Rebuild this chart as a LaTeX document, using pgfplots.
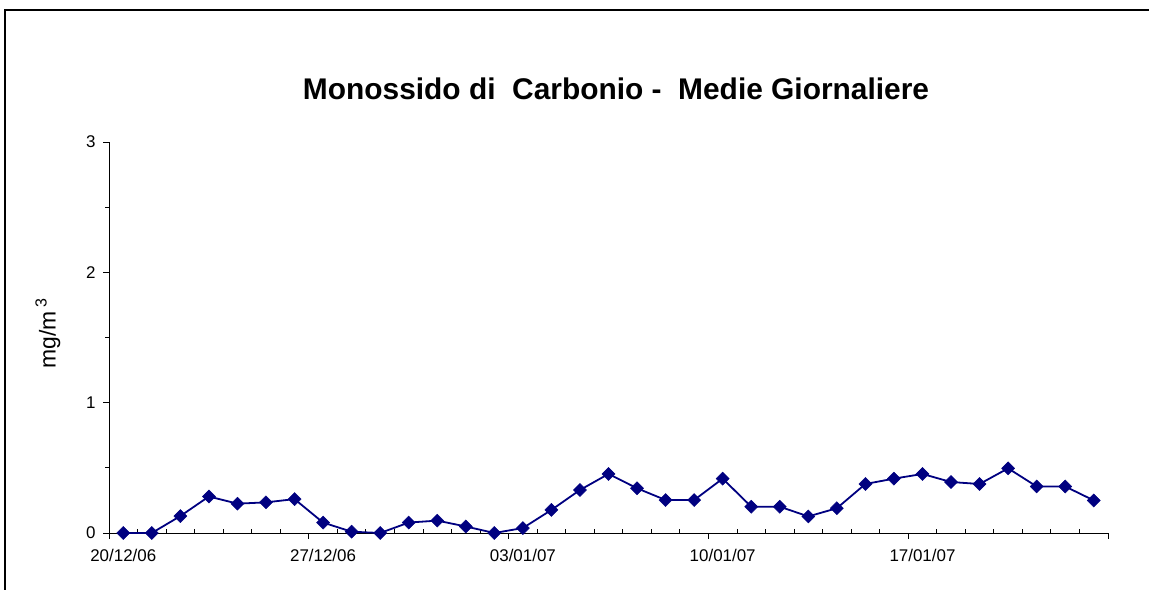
\documentclass[border=0pt]{standalone}
\usepackage{pgfplots}
\pgfplotsset{compat=1.18}
\usepackage{fontspec}
\setmainfont{Liberation Sans}
\definecolor{navy}{RGB}{0,0,128}
\begin{document}
\begin{tikzpicture}[x=1bp,y=1bp]
\path[use as bounding box] (0,0) rectangle (1149,590);
\draw[line width=1.5bp] (5,0) -- (5,580) -- (1149,580);
\node[font=\bfseries\fontsize{30}{34}\selectfont, anchor=base] at (616,490) {Monossido di\ \ Carbonio -\ \ Medie Giornaliere};
\node[rotate=90, font=\fontsize{23}{26}\selectfont] at (48,257) {mg/m\,\textsuperscript{3}};
\begin{axis}[
  at={(109bp,57bp)}, anchor=south west,
  scale only axis, width=999bp, height=391bp,
  xmin=-0.5, xmax=34.5, ymin=0, ymax=3,
  axis x line*=bottom, axis y line*=left,
  axis line style={black, line width=0.9bp},
  tick style={black, line width=0.9bp},
  tick align=outside,
  major tick length=6bp, minor tick length=4bp,
  ytick={0,1,2,3}, minor ytick={0.5,1.5,2.5},
  xtick={-0.5,6.5,13.5,20.5,27.5,34.5},
  xticklabels={20/12/06,27/12/06,03/01/07,10/01/07,17/01/07,{}},
  extra x ticks={0.5,1.5,2.5,3.5,4.5,5.5,7.5,8.5,9.5,10.5,11.5,12.5,14.5,15.5,16.5,17.5,18.5,19.5,21.5,22.5,23.5,24.5,25.5,26.5,28.5,29.5,30.5,31.5,32.5,33.5},
  extra x tick labels={},
  extra x tick style={tick align=inside, major tick length=4bp},
  /pgf/number format/assume math mode=true,
  ticklabel style={font=\fontsize{17}{20}\selectfont},
  x tick label style={xshift=14.27bp, yshift=-7bp},
  y tick label style={xshift=-4bp},
  clip=false,
]
\addplot[navy, line width=1.8bp, mark=square*, mark size=4.6bp, mark options={rotate=45, fill=navy, draw=navy, line width=0.5bp}] coordinates {
(0,0) (1,0) (2,0.13) (3,0.28) (4,0.225) (5,0.235) (6,0.26) (7,0.08) (8,0.01) (9,0)
(10,0.08) (11,0.095) (12,0.05) (13,0) (14,0.038) (15,0.177) (16,0.33) (17,0.453) (18,0.343) (19,0.253)
(20,0.253) (21,0.417) (22,0.202) (23,0.202) (24,0.127) (25,0.19) (26,0.376) (27,0.417) (28,0.453) (29,0.391)
(30,0.376) (31,0.496) (32,0.357) (33,0.357) (34,0.25)
};
\end{axis}
\end{tikzpicture}
\end{document}
